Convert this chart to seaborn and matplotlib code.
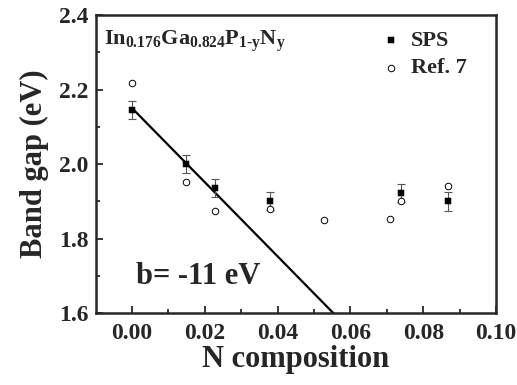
import numpy as np
import pandas as pd
import matplotlib
matplotlib.use("Agg")
import matplotlib.pyplot as plt
import seaborn as sns

# Data
sps_x = [0.000, 0.0148, 0.0228, 0.0379, 0.0739, 0.0868]
sps_y = [2.145, 2.000, 1.935, 1.900, 1.923, 1.900]
sps_err = [0.025, 0.024, 0.024, 0.024, 0.024, 0.025]

ref_x = [0.000, 0.0148, 0.0228, 0.0379, 0.0528, 0.0708, 0.0739, 0.0868]
ref_y = [2.218, 1.953, 1.875, 1.878, 1.849, 1.852, 1.900, 1.942]

fit_x = [0.000, 0.060]
fit_y = [2.150, 1.553]

x_ticks = [0.00, 0.02, 0.04, 0.06, 0.08, 0.10]
y_ticks = [1.6, 1.8, 2.0, 2.2, 2.4]

sns.set_style("ticks")
plt.rcParams["font.family"] = ["Liberation Serif", "DejaVu Serif"]
plt.rcParams["font.weight"] = "bold"
plt.rcParams["mathtext.fontset"] = "custom"
plt.rcParams["mathtext.rm"] = "Liberation Serif:bold"
plt.rcParams["mathtext.bf"] = "Liberation Serif:bold"
plt.rcParams["mathtext.it"] = "Liberation Serif:bold"

fig = plt.figure(figsize=(5.17, 3.85), dpi=100)
ax = fig.add_axes([0.185, 0.187, 0.7744, 0.774])

sps = pd.DataFrame({"x": sps_x, "y": sps_y})
ref = pd.DataFrame({"x": ref_x, "y": ref_y})
fit = pd.DataFrame({"x": fit_x, "y": fit_y})

sns.lineplot(data=fit, x="x", y="y", color="black", lw=1.6, ax=ax, legend=False)
ax.errorbar(sps_x, sps_y, yerr=sps_err, fmt="none", ecolor="#555555",
            elinewidth=0.8, capsize=3, capthick=0.8, zorder=3)
sns.scatterplot(data=ref, x="x", y="y", marker="o", s=22, facecolor="white",
                edgecolor="black", linewidth=0.7, ax=ax, label="Ref. 7", zorder=4)
sns.scatterplot(data=sps, x="x", y="y", marker="s", s=20, color="black",
                edgecolor="black", ax=ax, label="SPS", zorder=5)

ax.set_xlim(-0.01, 0.10)
ax.set_ylim(1.6, 2.4)
ax.set_xticks(x_ticks)
ax.set_xticks(np.arange(0.01, 0.1, 0.02), minor=True)
ax.set_yticks(y_ticks)
ax.set_yticks(np.arange(1.7, 2.4, 0.2), minor=True)
ax.tick_params(which="both", direction="in", top=False, right=False, width=1.3)
ax.tick_params(which="major", length=5, labelsize=17)
ax.tick_params(which="minor", length=3)
ax.tick_params(axis="x", pad=7)
ax.tick_params(axis="y", pad=5)
ax.set_xticklabels([f"{v:.2f}" for v in x_ticks])
ax.set_yticklabels([f"{v:.1f}" for v in y_ticks])
for sp in ax.spines.values():
    sp.set_linewidth(1.8)
    sp.set_visible(True)

ax.set_xlabel("N composition", fontsize=22, fontweight="bold", labelpad=1)
ax.set_ylabel("Band gap (eV)", fontsize=22, fontweight="bold", labelpad=7)

ax.text(0.02, 0.955, r"$\mathrm{In_{0.176}Ga_{0.824}P_{1\text{-}y}N_{y}}$",
        transform=ax.transAxes, fontsize=16, ha="left", va="top")
ax.text(0.001, 1.697, "b= -11 eV", fontsize=22, fontweight="bold",
        ha="left", va="center")

handles, labels = ax.get_legend_handles_labels()
order = [labels.index("SPS"), labels.index("Ref. 7")]
ax.legend([handles[i] for i in order], [labels[i] for i in order],
          loc="upper right", frameon=False, handletextpad=0.4,
          handlelength=1.0, labelspacing=0.3, borderaxespad=0.3,
          bbox_to_anchor=(0.965, 1.0),
          prop={"weight": "bold", "size": 16})

fig.canvas.draw()
for lab in ax.get_xticklabels() + ax.get_yticklabels():
    lab.set_fontweight("bold")
    lab.set_fontfamily("Liberation Serif")

fig.savefig("out.png", dpi=100)
